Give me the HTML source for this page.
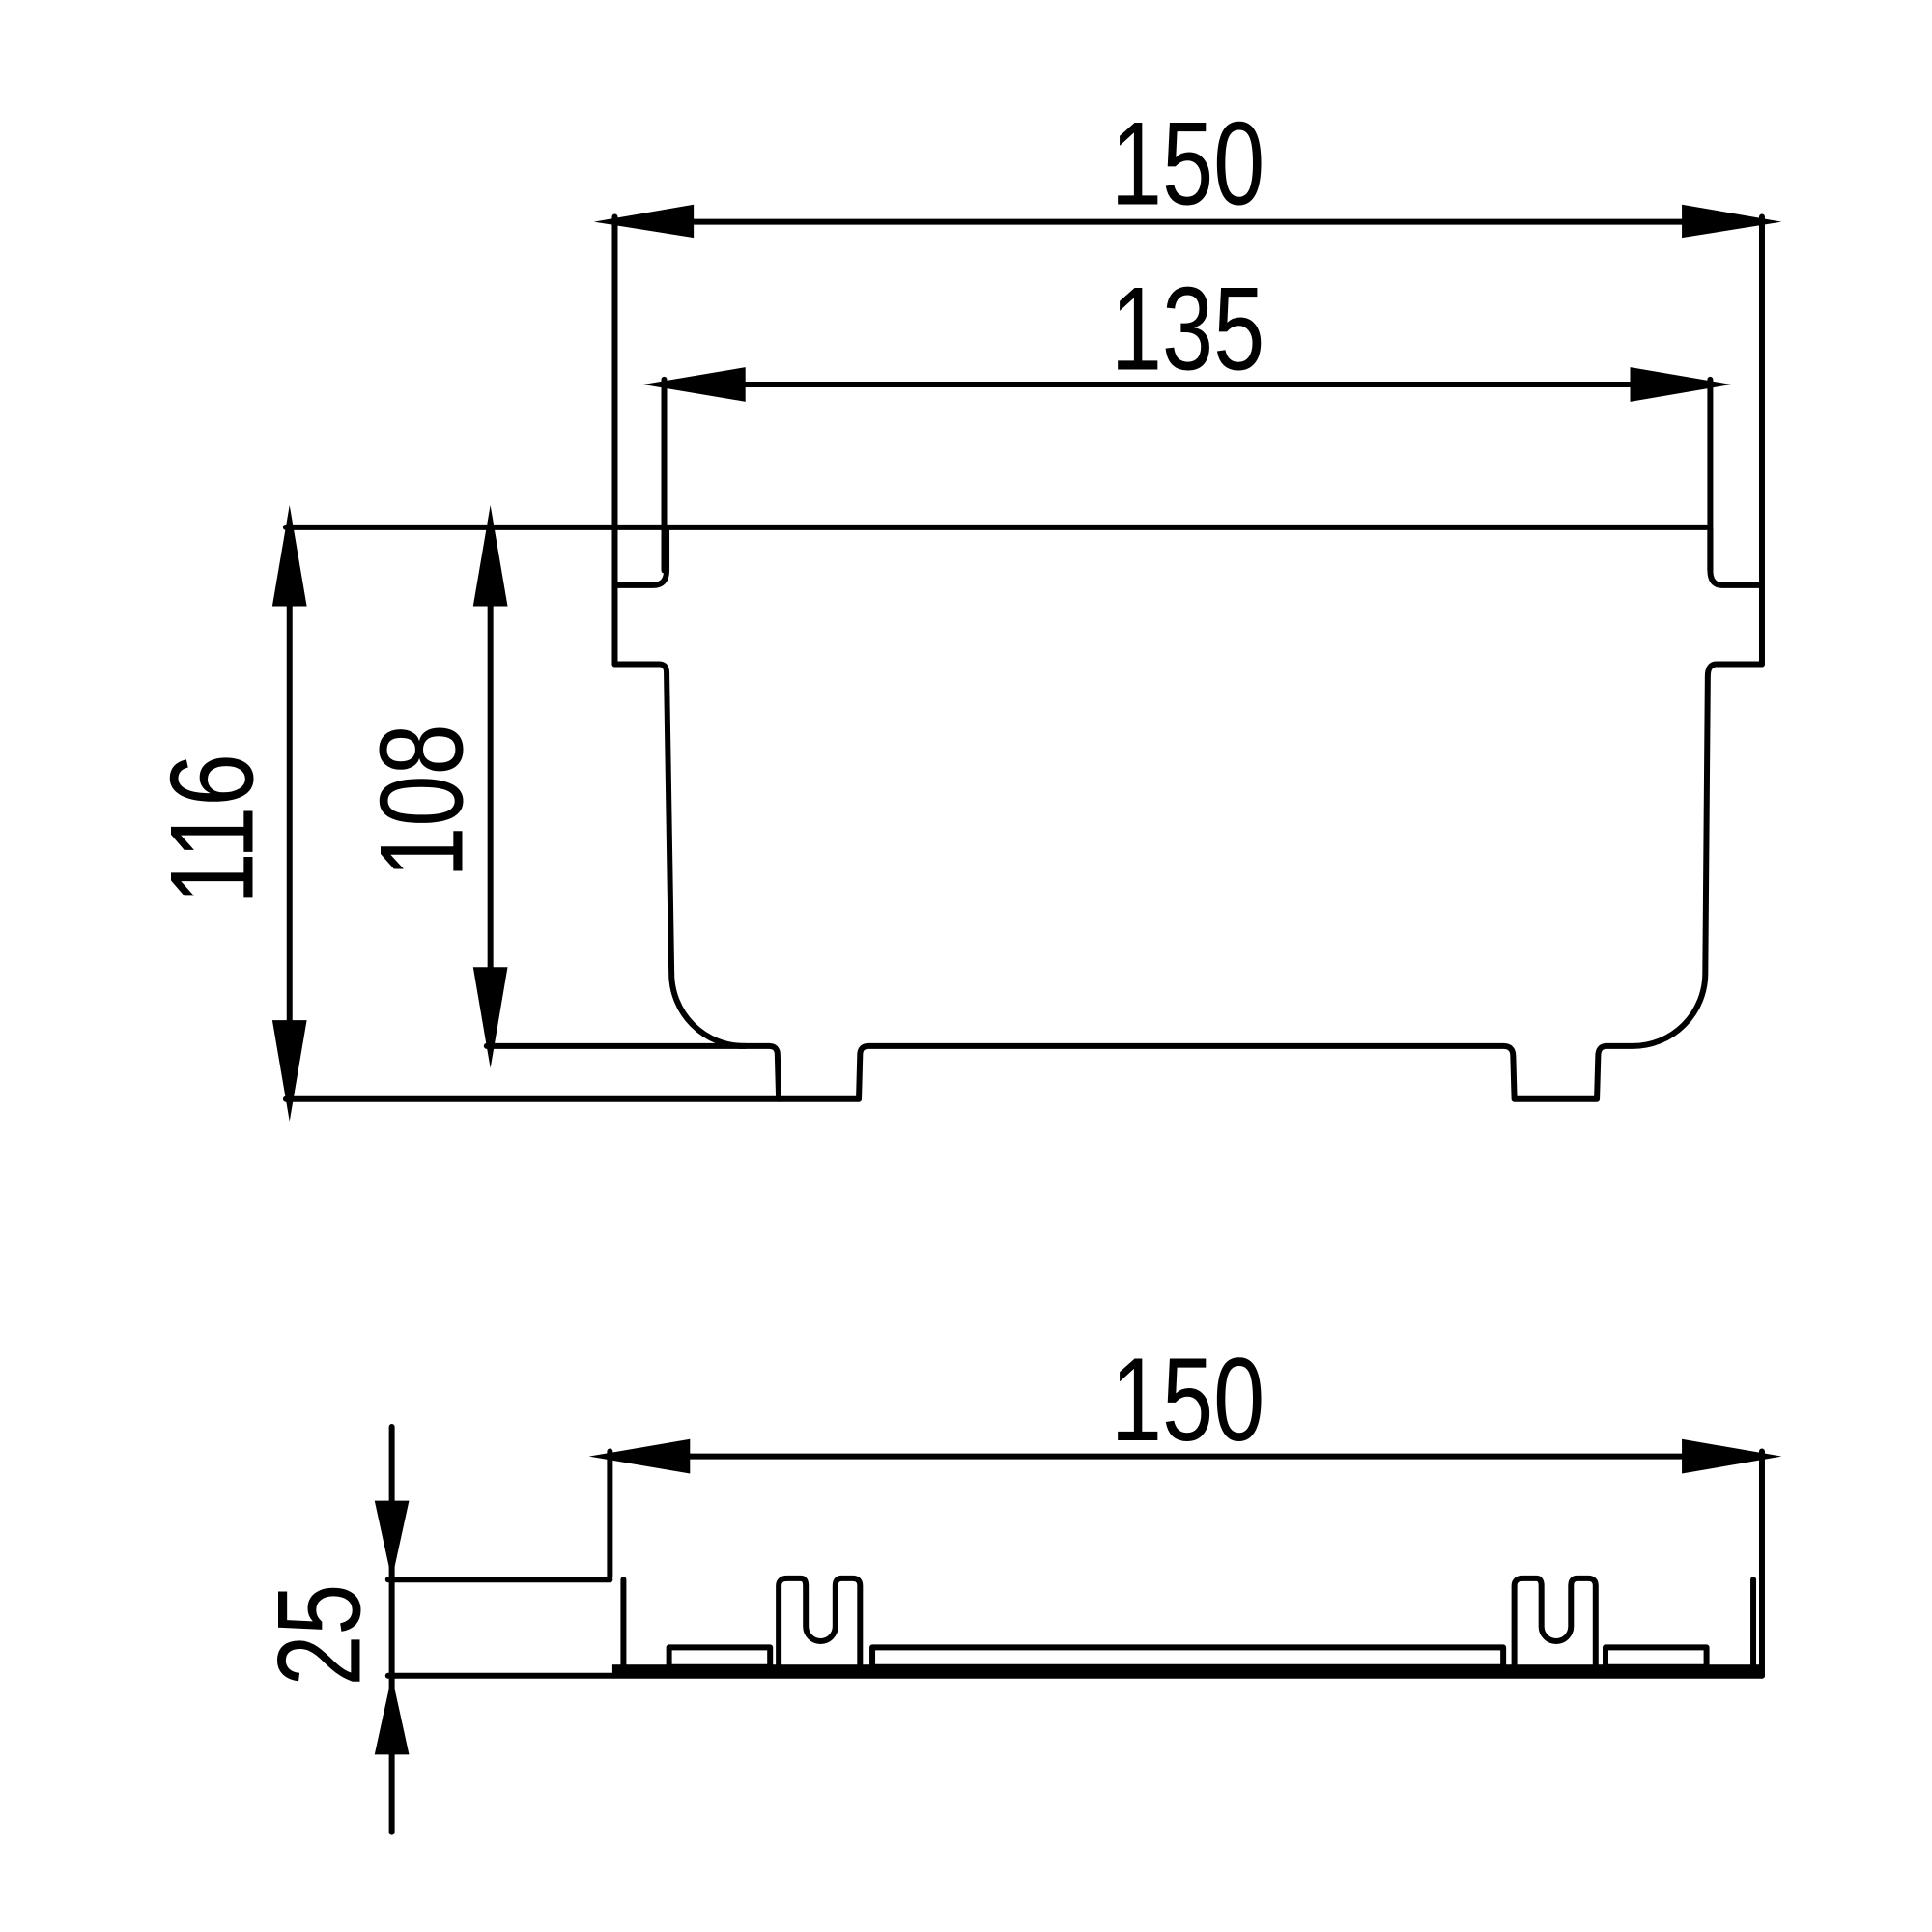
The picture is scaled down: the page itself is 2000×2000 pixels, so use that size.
<!DOCTYPE html>
<html><head><meta charset="utf-8"><style>
html,body{margin:0;padding:0;background:#fff;}
svg{display:block;}
text{font-family:"Liberation Sans",sans-serif;font-size:96px;fill:#000;}
</style></head><body>
<svg width="2000" height="2000" viewBox="0 0 1568 1568" xmlns="http://www.w3.org/2000/svg">
<g fill="none" stroke="#000" stroke-width="4.7" stroke-linecap="round" stroke-linejoin="round">
<line x1="499" y1="180" x2="1430" y2="180"/>
<line x1="499" y1="176" x2="499" y2="539"/>
<line x1="1430" y1="176" x2="1430" y2="539"/>
<line x1="539" y1="312" x2="1388" y2="312"/>
<line x1="539" y1="308" x2="539" y2="463"/>
<line x1="1388" y1="308" x2="1388" y2="463"/>
<line x1="232" y1="428" x2="1385" y2="428"/>
<line x1="235" y1="428" x2="235" y2="892"/>
<line x1="398" y1="428" x2="398" y2="849"/>
<line x1="232" y1="892" x2="632" y2="892"/>
<line x1="395" y1="849" x2="605" y2="849"/>
<path d="M499 475 H530 Q541 475 541 463 V430"/>
<path d="M1430 475 H1398 Q1388 475 1388 463 V430"/>
<path d="M499 539 H535 Q541 539 541 546 L545 790 A59 59 0 0 0 604 849 H624 Q631 849 631 856 L632 892 H697 L698 856 Q698 849 705 849 H1220 Q1228 849 1228 857 L1229 892 H1296 L1297 857 Q1297 849 1304 849 H1325 A59 59 0 0 0 1384 790 L1386 549 Q1386 539 1393 539 H1430"/>
<line x1="495" y1="1182" x2="1430" y2="1182"/>
<line x1="495" y1="1178" x2="495" y2="1280"/>
<line x1="1430" y1="1178" x2="1430" y2="1360"/>
<line x1="318" y1="1158" x2="318" y2="1487"/>
<line x1="315" y1="1282" x2="495" y2="1282"/>
<line x1="315" y1="1360" x2="1430" y2="1360"/>
<line x1="506" y1="1282" x2="506" y2="1355"/>
<line x1="1423" y1="1282" x2="1423" y2="1355"/>
<rect x="543" y="1337" width="82" height="16"/>
<rect x="708" y="1337" width="512" height="16"/>
<rect x="1303" y="1337" width="82" height="16"/>
<path d="M632 1352 V1287 Q632 1281 639 1281 H650 Q654 1281 654 1287 V1320 A12 12 0 0 0 678 1320 V1287 Q678 1281 683 1281 H692 Q698 1281 698 1287 V1352"/>
<path d="M1229 1352 V1287 Q1229 1281 1236 1281 H1247 Q1251 1281 1251 1287 V1320 A12 12 0 0 0 1275 1320 V1287 Q1275 1281 1280 1281 H1289 Q1295 1281 1295 1287 V1352"/>
</g>
<rect x="497" y="1351" width="935" height="10" fill="#000"/>
<g fill="#000">
<polygon points="482,180 563,166 563,193"/>
<polygon points="1446,180 1365,166 1365,193"/>
<polygon points="522,312 605,298 605,326"/>
<polygon points="1405,312 1323,298 1323,326"/>
<polygon points="235,410 221,492 249,492"/>
<polygon points="235,910 221,828 249,828"/>
<polygon points="398,410 384,492 412,492"/>
<polygon points="398,867 384,785 412,785"/>
<polygon points="478,1182 560,1168 560,1196"/>
<polygon points="1446,1182 1365,1168 1365,1196"/>
<polygon points="318,1282 304,1218 332,1218"/>
<polygon points="318,1360 304,1424 332,1424"/>
</g>
<text x="964" y="166" text-anchor="middle" textLength="125" lengthAdjust="spacingAndGlyphs">150</text>
<text x="964" y="300" text-anchor="middle" textLength="125" lengthAdjust="spacingAndGlyphs">135</text>
<text x="964" y="1169" text-anchor="middle" textLength="125" lengthAdjust="spacingAndGlyphs">150</text>
<text transform="translate(205,673) rotate(-90)" text-anchor="middle" textLength="123" lengthAdjust="spacingAndGlyphs">116</text>
<text transform="translate(375,650) rotate(-90)" text-anchor="middle" textLength="125" lengthAdjust="spacingAndGlyphs">108</text>
<text transform="translate(292,1327) rotate(-90)" text-anchor="middle" textLength="83" lengthAdjust="spacingAndGlyphs">25</text>
</svg>
</body></html>
